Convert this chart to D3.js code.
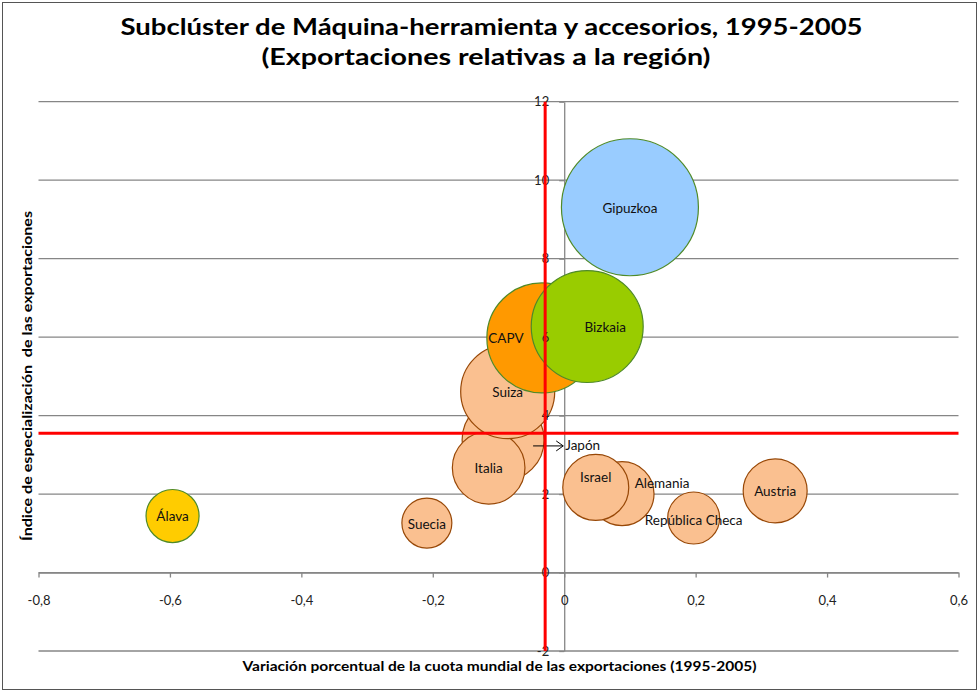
<html>
<head>
<meta charset="utf-8">
<style>
  body { margin: 0; background: #fff; }
  text { font-family: Lato, "Noto Sans", sans-serif; }
</style>
</head>
<body>
<script src="https://d3js.org/d3.v7.min.js"></script>
<div id="my_dataviz"></div>
<script>
// data
var names   = ["Japón", "Italia", "Suiza", "Alemania", "Israel", "Suecia", "República Checa", "Austria", "Álava", "CAPV", "Bizkaia", "Gipuzkoa"];
var xValues = [-0.093, -0.115, -0.086, 0.088, 0.048, -0.209, 0.197, 0.321, -0.596, -0.034, 0.035, 0.100];
var yValues = [3.38, 2.67, 4.61, 2.01, 2.17, 1.26, 1.39, 2.08, 1.44, 5.98, 6.27, 9.31];
var sizes   = [35.8, 28.1, 47.1, 21.8, 23.2, 13.3, 14.4, 21.8, 15.0, 64.5, 66.8, 100];
var fills   = ["#FAC090", "#FAC090", "#FAC090", "#FAC090", "#FAC090", "#FAC090", "#FAC090", "#FAC090", "#FFCC00", "#FF9900", "#99CC00", "#99CCFF"];
var strokes = ["#984807", "#984807", "#984807", "#984807", "#984807", "#984807", "#984807", "#984807", "#4F8A28", "#4F8A28", "#4F8A28", "#4F8A28"];

var xTicks = [-0.8, -0.6, -0.4, -0.2, 0, 0.2, 0.4, 0.6];
var xTickLabels = ["-0,8", "-0,6", "-0,4", "-0,2", "0", "0,2", "0,4", "0,6"];
var yTicks = [-2, 0, 2, 4, 6, 8, 10, 12];
var yTickLabels = ["-2", "0", "2", "4", "6", "8", "10", "12"];

// red reference lines (average values)
var refX = -0.029;
var refY = 3.55;

var width = 979, height = 693;

var svg = d3.select("#my_dataviz")
  .append("svg")
    .attr("width", width)
    .attr("height", height);

svg.append("rect")
  .attr("x", 2.5).attr("y", 2.5)
  .attr("width", 974).attr("height", 687)
  .attr("fill", "#fff")
  .attr("stroke", "#555")
  .attr("stroke-width", 1);

var x = d3.scaleLinear().domain([-0.8, 0.6]).range([38.5, 958.5]);
var y = d3.scaleLinear().domain([-2, 12]).range([651, 101.7]);
var r = d3.scaleSqrt().domain([0, 100]).range([0, 68.5]);

var grey = "#868686";

// horizontal gridlines
svg.append("g")
  .selectAll("line")
  .data(yTicks)
  .enter()
  .append("line")
    .attr("x1", x(-0.8)).attr("x2", x(0.6))
    .attr("y1", function(d) { return y(d); })
    .attr("y2", function(d) { return y(d); })
    .attr("stroke", grey)
    .attr("stroke-width", 1.3);

// axes (lines only, behind bubbles)
function xAxis() {
  return d3.axisBottom(x).tickValues(xTicks).tickSize(5).tickSizeOuter(0)
    .tickPadding(18).tickFormat(function(d, i) { return xTickLabels[i]; });
}
function yAxis() {
  return d3.axisLeft(y).tickValues(yTicks).tickSize(5).tickSizeOuter(0)
    .tickPadding(10).tickFormat(function(d, i) { return yTickLabels[i]; });
}
function styleAxis(g) {
  g.selectAll("path, line").attr("stroke", grey).attr("stroke-width", 1.3);
  g.selectAll("text").attr("fill", "#222").style("font-size", "13px")
    .style("font-family", "Lato, 'Noto Sans', sans-serif");
}

var gx = svg.append("g").attr("transform", "translate(0," + y(0) + ")").call(xAxis());
var gy = svg.append("g").attr("transform", "translate(" + x(0) + ",0)").call(yAxis());
styleAxis(gx); styleAxis(gy);
gx.selectAll("text").remove();
gy.selectAll("text").remove();

var data = names.map(function(n, i) {
  return { name: n, x: xValues[i], y: yValues[i], size: sizes[i], fill: fills[i], stroke: strokes[i] };
});

// bubbles
svg.append("g")
  .selectAll("circle")
  .data(data)
  .enter()
  .append("circle")
    .attr("cx", function(d) { return x(d.x); })
    .attr("cy", function(d) { return y(d.y); })
    .attr("r", function(d) { return r(d.size); })
    .attr("fill", function(d) { return d.fill; })
    .attr("stroke", function(d) { return d.stroke; })
    .attr("stroke-width", 1.2);

// label offsets (px) relative to bubble centre
var labelDx = { "CAPV": -36, "Bizkaia": 18, "Alemania": 40, "Israel": 0 };
var labelDy = { "Israel": -11, "Alemania": -11, "República Checa": 2 };

svg.append("g")
  .selectAll("text")
  .data(data.filter(function(d) { return d.name !== "Japón"; }))
  .enter()
  .append("text")
    .attr("x", function(d) { return x(d.x) + (labelDx[d.name] || 0); })
    .attr("y", function(d) { return y(d.y) + (labelDy[d.name] || 0) + 2; })
    .attr("text-anchor", "middle")
    .attr("dominant-baseline", "middle")
    .style("font-size", "13.5px")
    .attr("fill", "#111")
    .text(function(d) { return d.name; });

// Japón label with arrow
var jp = data[0];
var ax0 = x(jp.x) + 30, ay = y(jp.y) + 6, ax1 = x(0) - 1;
svg.append("line")
  .attr("x1", ax0).attr("x2", ax1).attr("y1", ay).attr("y2", ay)
  .attr("stroke", "#000").attr("stroke-width", 1);
svg.append("path")
  .attr("d", "M" + (ax1 - 7) + "," + (ay - 5) + "L" + ax1 + "," + ay + "L" + (ax1 - 7) + "," + (ay + 5))
  .attr("fill", "none").attr("stroke", "#000").attr("stroke-width", 1);
svg.append("text")
  .attr("x", ax1 + 2).attr("y", ay + 1)
  .attr("dominant-baseline", "middle")
  .style("font-size", "13.5px")
  .attr("fill", "#111")
  .text(jp.name);

// tick labels on top of bubbles
var tx = svg.append("g").attr("transform", "translate(0," + y(0) + ")").call(xAxis());
var ty = svg.append("g").attr("transform", "translate(" + x(0) + ",0)").call(yAxis());
styleAxis(tx); styleAxis(ty);
tx.selectAll("path, line").remove();
ty.selectAll("path, line").remove();
ty.selectAll("text").attr("text-anchor", "end");

// red reference lines
svg.append("line")
  .attr("x1", x(refX)).attr("x2", x(refX))
  .attr("y1", y(12)).attr("y2", y(-2))
  .attr("stroke", "#FF0000").attr("stroke-width", 3);
svg.append("line")
  .attr("x1", x(-0.8)).attr("x2", x(0.6))
  .attr("y1", y(refY)).attr("y2", y(refY))
  .attr("stroke", "#FF0000").attr("stroke-width", 3);

// titles (stretched to the reference widths)
function stretch(sel, target) {
  sel.attr("textLength", target).attr("lengthAdjust", "spacingAndGlyphs");
}
var t1 = svg.append("text")
  .attr("x", 491.5).attr("y", 35)
  .attr("text-anchor", "middle")
  .style("font-size", "23px").style("font-weight", "bold")
  .text("Subclúster de Máquina-herramienta y accesorios, 1995-2005");
stretch(t1, 742);
var t2 = svg.append("text")
  .attr("x", 486).attr("y", 65)
  .attr("text-anchor", "middle")
  .style("font-size", "23px").style("font-weight", "bold")
  .text("(Exportaciones relativas a la región)");
stretch(t2, 449);

var xt = svg.append("text")
  .attr("x", 499.5).attr("y", 671)
  .attr("text-anchor", "middle")
  .style("font-size", "12.5px").style("font-weight", "bold")
  .text("Variación porcentual de la cuota mundial de las exportaciones (1995-2005)");
stretch(xt, 514);

var yt = svg.append("text")
  .attr("transform", "translate(32,376)rotate(-90)")
  .attr("text-anchor", "middle")
  .style("font-size", "12.5px").style("font-weight", "bold")
  .style("white-space", "pre")
  .text("Índice de especialización  de las exportaciones");
stretch(yt, 330);
</script>
</body>
</html>
